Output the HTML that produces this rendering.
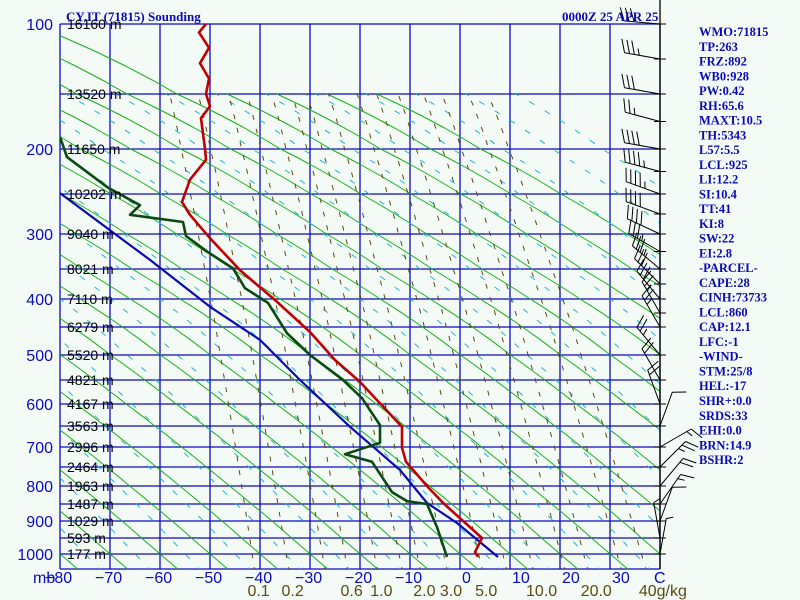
<!DOCTYPE html>
<html><head><meta charset="utf-8"><title>CY.IT Sounding</title>
<style>
html,body{margin:0;padding:0;background:#f4fbf7;}
svg{display:block;font-family:"Liberation Sans",sans-serif;}
.side{font-family:"Liberation Serif",serif;font-weight:bold;font-size:12.5px;fill:#0a0ab4;}
</style></head>
<body>
<svg id="chart" width="800" height="600" viewBox="0 0 800 600" xmlns="http://www.w3.org/2000/svg">
<rect x="0" y="0" width="800" height="600" fill="#f4fbf7"/>
<g id="grid"></g>
<g id="bg"></g>
<g id="series"></g>
<g id="barbs"></g>
<g id="labels"></g>
<text x="66" y="21" font-family="Liberation Serif,serif" font-weight="bold" font-size="13" fill="#0a0ab4">CY.IT (71815) Sounding</text>
<text x="562" y="21" font-family="Liberation Serif,serif" font-weight="bold" font-size="13" fill="#0a0ab4">0000Z 25 APR 25</text>
<g id="side"></g>
</svg>
<script>
// ---- data ----
const pressureLevels = [100,150,200,250,300,350,400,450,500,550,600,650,700,750,800,850,900,950,1000];
const heightLabels = ["16160 m","13520 m","11650 m","10202 m","9040 m","8021 m","7110 m","6279 m","5520 m","4821 m","4167 m","3563 m","2996 m","2464 m","1963 m","1487 m","1029 m","593 m","177 m"];
const pressureTickLabels = ["100","200","300","400","500","600","700","800","900","1000"];
const tempTicks = [-80,-70,-60,-50,-40,-30,-20,-10,0,10,20,30];
const tempP = [100,106,117,128,139,150,161,172,200,212,234,260,276,306,352,405,459,510,554,618,652,702,737,803,847,950,994,1010];
const tempT = [-50.8,-52.2,-50.2,-52,-50.2,-50.8,-50,-51.8,-51,-50.8,-54,-55.6,-54,-50,-44,-36.6,-30,-25,-20,-14.4,-11.6,-11.6,-10.8,-6.4,-3.4,4.4,3,3.6];
const dewP = [189,209,243,264,276,285,303,326,349,382,407,461,500,550,588,648,690,718,737,817,842,850,918,1010];
const dewT = [-80,-78.6,-70.4,-64,-66,-55.4,-54.8,-50.4,-45.4,-43,-38.4,-34.6,-30,-23.4,-19.6,-16,-16,-23,-17.6,-13.6,-10.6,-6.6,-4.6,-2.6];
const parcelP = [249,337,414,473,550,652,758,847,906,1010];
const parcelT = [-80,-62,-50,-40,-32,-22,-12,-6.6,-0.6,7.6];
const mixRatios = [0.1,0.2,0.4,0.6,1,1.5,2,3,5,7,10,15,20,30,40];
const mixLabels = ["0.1","0.2","0.6","1.0","2.0","3.0","5.0","10.0","20.0","40"];
const mixLabelVals = [0.1,0.2,0.6,1.0,2.0,3.0,5.0,10.0,20.0,40];
const windP = [100,125,150,175,200,225,250,275,300,325,350,375,400,425,450,500,550,600,650,700,750,800,850,900,950,1000];
const windDir = [275,280,280,285,280,285,290,290,295,300,310,315,320,330,330,320,330,340,20,60,45,40,35,20,350,10];
const windSpd = [30,35,30,25,40,45,45,40,40,35,35,30,30,25,25,25,20,20,10,15,25,20,15,10,5,5];
const sideText = ["WMO:71815","TP:263","FRZ:892","WB0:928","PW:0.42","RH:65.6","MAXT:10.5","TH:5343","L57:5.5","LCL:925","LI:12.2","SI:10.4","TT:41","KI:8","SW:22","EI:2.8","-PARCEL-","CAPE:28","CINH:73733","LCL:860","CAP:12.1","LFC:-1","-WIND-","STM:25/8","HEL:-17","SHR+:0.0","SRDS:33","EHI:0.0","BRN:14.9","BSHR:2"];

// ---- axes ----
const levelY = [24,94,149,194,234,269,299,327,355,380,404,426,447,467,486,504,521,538,554];
const X0 = 60, X1 = 660, YB = 569;
function yOf(p){
  if(p<=pressureLevels[0]) return levelY[0] - (pressureLevels[0]-p)*1.4;
  for(let i=1;i<pressureLevels.length;i++){
    if(p<=pressureLevels[i]){
      const t=(p-pressureLevels[i-1])/(pressureLevels[i]-pressureLevels[i-1]);
      return levelY[i-1]+t*(levelY[i]-levelY[i-1]);
    }
  }
  return 554 + (p-1000)*0.3;
}
function xOf(t){ return 460 + 5*t; }
const NS="http://www.w3.org/2000/svg";
function mk(tag, parent, attrs){
  const e=document.createElementNS(NS,tag);
  for(const k in attrs) e.setAttribute(k,attrs[k]);
  parent.appendChild(e); return e;
}
const grid=document.getElementById('grid'), bg=document.getElementById('bg'),
 series=document.getElementById('series'), barbs=document.getElementById('barbs'),
 labels=document.getElementById('labels'), side=document.getElementById('side');

const defs=mk('defs',document.getElementById('chart'),{});
const cp=mk('clipPath',defs,{id:'plotclip'});
mk('rect',cp,{x:X0,y:24,width:X1-X0,height:YB-24});
bg.setAttribute('clip-path','url(#plotclip)');
series.setAttribute('clip-path','url(#plotclip)');

pressureLevels.forEach((p,i)=>{
  const l=mk('line',grid,{x1:X0,x2:X1,y1:yOf(p),y2:yOf(p),stroke:'#0a0abe','stroke-width':1.3});
  
  
});
for(let t=-80;t<=40;t+=10){
  const l=mk('line',grid,{x1:xOf(t),x2:xOf(t),y1:24,y2:YB,stroke:'#0a0abe','stroke-width':1.3});
  
  
}
mk('line',grid,{x1:X0,x2:X1,y1:YB,y2:YB,stroke:'#0a0abe','stroke-width':1.3});

// green diagonal lines
for(let k=-6;k<=20;k++){
  const xb=X0+50*k;
  const xAt=p=>xb+360*Math.log(p/1000);
  const top = xAt(100)<=X0 ? 100 : 150;
  let pts=[];
  for(let p=1060;p>=top;p-=10) pts.push(xAt(p).toFixed(1)+','+yOf(p).toFixed(1));
  const l=mk('polyline',bg,{points:pts.join(' '),fill:'none',stroke:'#16b016','stroke-width':1});
  
  
}
// cyan dashed lines
for(let k=-6;k<=20;k++){
  const xb=X0+25+50*k;
  const xAt=p=>xb+300*Math.log(p/1000);
  let pts=[];
  for(let p=1060;p>=150;p-=10) pts.push(xAt(p).toFixed(1)+','+yOf(p).toFixed(1));
  const l=mk('polyline',bg,{points:pts.join(' '),fill:'none',stroke:'#22b4cc','stroke-width':1,'stroke-dasharray':'6 12'});
  
  
}
// mixing ratio lines
function tdFromW(w,p){ const e=w*p/(622+w); const g=Math.log(e/6.112); return 243.5*g/(17.67-g); }
mixRatios.forEach(w=>{
  let pts=[];
  for(let p=1060;p>=150;p-=10) pts.push(xOf(tdFromW(w,p)).toFixed(1)+','+yOf(p).toFixed(1));
  const l=mk('polyline',bg,{points:pts.join(' '),fill:'none',stroke:'#5a4a10','stroke-width':1,'stroke-dasharray':'5 9'});
  
  
});

function drawSeries(P,T,color,w,name){
  const pts=P.map((p,i)=>xOf(T[i]).toFixed(1)+','+yOf(p).toFixed(1)).join(' ');
  const l=mk('polyline',series,{points:pts,fill:'none',stroke:color,'stroke-width':w,'stroke-linejoin':'round'});
  
  
}
drawSeries(parcelP,parcelT,'#0a0ab4',2.2,'parcel-line');
drawSeries(dewP,dewT,'#0a4a10',2.6,'dewpoint-line');
drawSeries(tempP,tempT,'#c00000',2.6,'temperature-line');

pressureLevels.forEach((p,i)=>{
  const t=mk('text',labels,{x:67,y:yOf(p)+5,'font-size':14,fill:'#000'});
  t.textContent=heightLabels[i];
  
  
});
pressureTickLabels.forEach(s=>{
  const t=mk('text',labels,{x:53,y:yOf(+s)+6,'font-size':16,fill:'#0a0abe','text-anchor':'end'});
  t.textContent=s;
  
  
});
tempTicks.forEach(v=>{
  const neg=v<0;
  const t=mk('text',labels,{x:xOf(v)-(neg?15:-2),y:583,'font-size':16,fill:'#0a0abe'});
  t.textContent=(neg?'\u2212':'')+Math.abs(v);
  
  
});
{
  const t=mk('text',labels,{x:33,y:583,'font-size':16,fill:'#0a0abe'});
  t.textContent='mb';
  
  
  const c=mk('text',labels,{x:654,y:583,'font-size':16,fill:'#0a0abe'});
  c.textContent='C';
  
  
}
mixLabels.forEach((s,i)=>{
  const x=xOf(tdFromW(mixLabelVals[i],1050));
  const t=mk('text',labels,{x:x-7,y:596,'font-size':16,fill:'#5a4a10'});
  t.textContent= s==='40' ? '40g/kg' : s;
  
  
});

mk('line',barbs,{x1:X1,x2:X1,y1:0,y2:YB,stroke:'#000','stroke-width':1.3});
windP.forEach((p,i)=>{
  const y=yOf(p), d=windDir[i]*Math.PI/180;
  const tk=mk('line',barbs,{x1:X1-6,x2:X1+6,y1:y,y2:y,stroke:'#000','stroke-width':1});
  
  
  const ux=Math.sin(d), uy=-Math.cos(d), L=36;
  const ex=X1+ux*L, ey=y+uy*L;
  let path='M'+X1+','+y+' L'+ex.toFixed(1)+','+ey.toFixed(1);
  const fd=d+Math.PI/2.6, fx=Math.sin(fd), fy=-Math.cos(fd);
  let s=windSpd[i], pos=0;
  while(s>=10){ const bx=ex-ux*pos, by=ey-uy*pos;
    path+=' M'+bx.toFixed(1)+','+by.toFixed(1)+' l'+(fx*14).toFixed(1)+','+(fy*14).toFixed(1); s-=10; pos+=5; }
  if(s>=5){ const bx=ex-ux*pos, by=ey-uy*pos;
    path+=' M'+bx.toFixed(1)+','+by.toFixed(1)+' l'+(fx*7).toFixed(1)+','+(fy*7).toFixed(1); }
  const b=mk('path',barbs,{d:path,fill:'none',stroke:'#000','stroke-width':1});
  
  
});

sideText.forEach((s,i)=>{
  const t=mk('text',side,{x:699,y:36+i*14.76,'class':'side'});
  t.textContent=s;
  
  
});
</script>
</body></html>
